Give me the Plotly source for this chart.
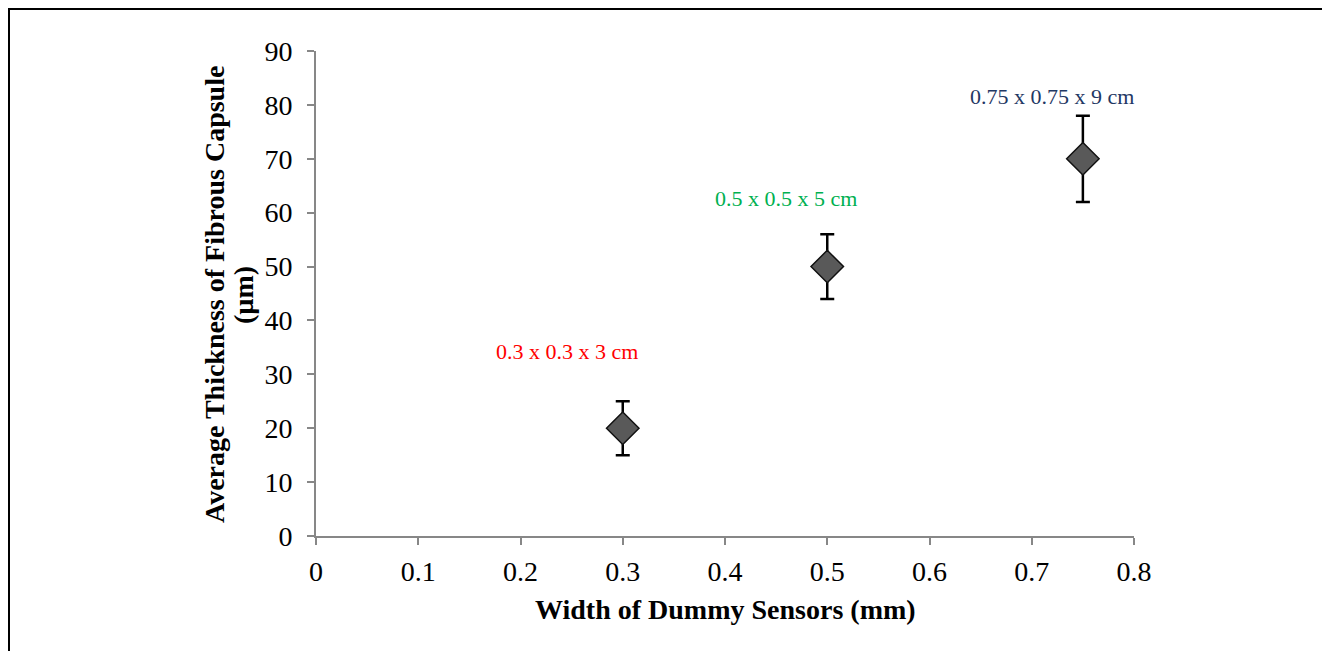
import plotly.graph_objects as go

widths = [0.3, 0.5, 0.75]
thickness = [20, 50, 70]
errors = [5, 6, 8]
labels = ["0.3 x 0.3 x 3 cm", "0.5 x 0.5 x 5 cm", "0.75 x 0.75 x 9 cm"]
label_x = [0.245, 0.46, 0.72]
label_y = [34.3, 62.7, 81.6]
label_colors = ["#FF0000", "#00B050", "#1F3864"]
xticks = [0, 0.1, 0.2, 0.3, 0.4, 0.5, 0.6, 0.7, 0.8]
yticks = [0, 10, 20, 30, 40, 50, 60, 70, 80, 90]

# page body has an 8px margin; figure is sized to fit the window
W, H = 1322, 643
L, R, T, B = 308, 196, 43, 115
FONT = "Liberation Serif"
pw, ph = W - L - R, H - T - B


def px(xp):
    return (xp - L) / pw


def py(yp):
    return (H - B - yp) / ph


fig = go.Figure()
fig.add_trace(go.Scatter(
    x=widths, y=thickness, mode="markers",
    marker=dict(symbol="diamond", size=25, color="#595959",
                line=dict(color="#111111", width=1.5)),
    error_y=dict(type="data", array=errors, color="black", thickness=2.5, width=7),
    showlegend=False,
))

for t, x, y, c in zip(labels, label_x, label_y, label_colors):
    fig.add_annotation(x=x, y=y, text=t, showarrow=False,
                       font=dict(family=FONT, size=22, color=c))

# axis titles
fig.add_annotation(xref="paper", yref="paper", x=px(206), y=py(287), textangle=-90,
                   text="<b>Average Thickness of Fibrous Capsule</b>", showarrow=False,
                   xanchor="center", yanchor="middle",
                   font=dict(family=FONT, size=28, color="black"))
fig.add_annotation(xref="paper", yref="paper", x=px(235), y=py(287), textangle=-90,
                   text="<b>(µm)</b>", showarrow=False,
                   xanchor="center", yanchor="middle",
                   font=dict(family=FONT, size=28, color="black"))
fig.add_annotation(xref="paper", yref="paper", x=px(717), y=py(601),
                   text="<b>Width of Dummy Sensors (mm)</b>", showarrow=False,
                   xanchor="center", yanchor="middle",
                   font=dict(family=FONT, size=28, color="black"))

# frame
fig.add_shape(type="line", xref="paper", yref="paper",
              x0=px(1), y0=py(H), x1=px(1), y1=py(1),
              line=dict(color="black", width=2))
fig.add_shape(type="line", xref="paper", yref="paper",
              x0=px(0), y0=py(1), x1=px(W), y1=py(1),
              line=dict(color="black", width=2))

fig.update_layout(
    width=W, height=H,
    margin=dict(l=L, r=R, t=T, b=B),
    paper_bgcolor="white", plot_bgcolor="white",
    font=dict(family=FONT, color="black"),
)
fig.update_xaxes(
    range=[0, 0.8], tickvals=xticks, ticktext=[str(v) for v in xticks],
    showgrid=False, zeroline=False, showline=True, linecolor="#878787", linewidth=2,
    ticks="outside", ticklen=7, tickcolor="#878787", tickwidth=2,
    ticklabelstandoff=2,
    tickfont=dict(family=FONT, size=28, color="black"),
)
fig.update_yaxes(
    range=[0, 90], tickvals=yticks,
    showgrid=False, zeroline=False, showline=True, linecolor="#878787", linewidth=2,
    ticks="outside", ticklen=7, tickcolor="#878787", tickwidth=2,
    ticklabelstandoff=9,
    tickfont=dict(family=FONT, size=28, color="black"),
)

fig.write_html("out.html")
